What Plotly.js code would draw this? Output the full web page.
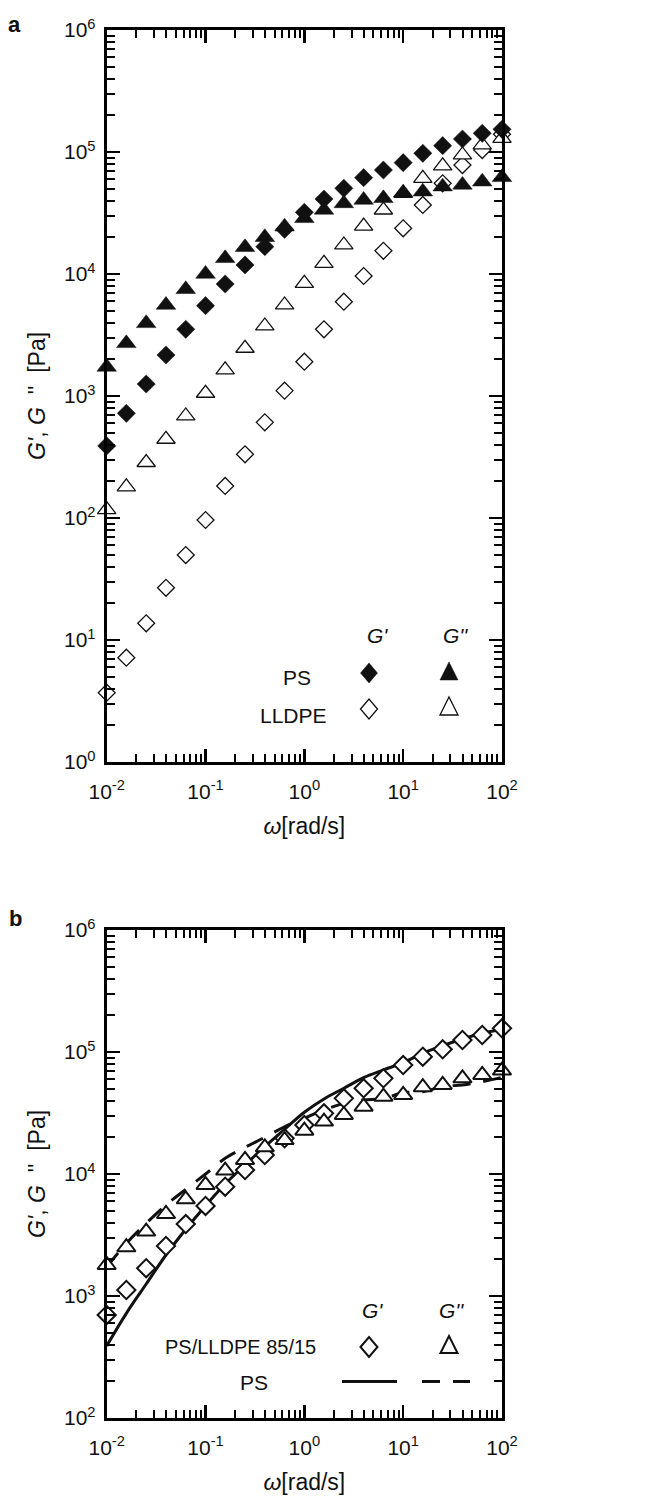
<!DOCTYPE html>
<html>
<head>
<meta charset="utf-8">
<script src="https://cdn.plot.ly/plotly-3.0.1.min.js"></script>
<style>html,body{margin:0;padding:0;background:#fff}#chart{width:646px;height:1500px}</style>
</head>
<body>
<div id="chart"></div>
<script>
// ---------------- data ----------------
const omega = [0.01, 0.0158, 0.0251, 0.0398, 0.0631, 0.1, 0.158, 0.251, 0.398, 0.631, 1,
               1.58, 2.51, 3.98, 6.31, 10, 15.8, 25.1, 39.8, 63.1, 100];

// Panel a
const psG1 = [390, 721, 1254, 2168, 3523, 5500, 8280, 11860, 16750, 23240, 32050,
              41200, 50400, 61600, 71200, 81800, 97600, 112700, 127800, 142300, 153500];
const psG2 = [1730, 2700, 3940, 5570, 7490, 10000, 13450, 16550, 20000, 24400, 28600,
              33500, 37900, 40400, 41700, 46400, 47300, 52000, 53700, 57100, 62000];
const llG1 = [3.7, 7.16, 13.7, 26.8, 49.7, 96.3, 183, 333, 608, 1106, 1910,
              3520, 5930, 9630, 15500, 23700, 36800, 55400, 78200, 103800, 140000];
const llG2 = [117, 180, 285, 442, 686, 1053, 1636, 2463, 3750, 5574, 8394,
              12220, 17300, 24720, 33460, 45870, 60900, 76900, 94560, 114200, 129500];

// Panel b : PS/LLDPE 85/15 blend
const blG1 = [699, 1120, 1690, 2570, 3890, 5470, 7870, 10780, 14300, 19600, 25200,
              31400, 41700, 50400, 60800, 78200, 91500, 105200, 125400, 137800, 156400];
const blG2 = [1795, 2510, 3375, 4700, 6200, 8130, 10670, 13030, 16540, 18990, 22650,
              26900, 30460, 35630, 43050, 44460, 51420, 53670, 60910, 64860, 70500];

// tick labels
const xTickVals = [0.01, 0.1, 1, 10, 100];
const xTickText = ['10<sup>-2</sup>', '10<sup>-1</sup>', '10<sup>0</sup>', '10<sup>1</sup>', '10<sup>2</sup>'];
const yTickValsA = [1, 10, 100, 1e3, 1e4, 1e5, 1e6];
const yTickTextA = ['10<sup>0</sup>', '10<sup>1</sup>', '10<sup>2</sup>', '10<sup>3</sup>', '10<sup>4</sup>', '10<sup>5</sup>', '10<sup>6</sup>'];
const yTickValsB = [100, 1e3, 1e4, 1e5, 1e6];
const yTickTextB = ['10<sup>2</sup>', '10<sup>3</sup>', '10<sup>4</sup>', '10<sup>5</sup>', '10<sup>6</sup>'];

// ---------------- helpers ----------------
const W = 646, H = 1500;
const X = p => p / W;
const Y = p => 1 - p / H;
const FONT = 'Liberation Sans, Arial, Helvetica, sans-serif';
const NB = '\u00A0';

function minorVals(lo, hi) {
  const v = [];
  for (let e = lo; e < hi; e++) for (let m = 2; m <= 9; m++) v.push(m * Math.pow(10, e));
  return v;
}

function axis(extra) {
  return Object.assign({
    type: 'log', showgrid: false, zeroline: false,
    showline: true, linewidth: 3, linecolor: '#000', mirror: 'allticks',
    ticks: 'inside', ticklen: 13, tickwidth: 2.5, tickcolor: '#000',
    tickmode: 'array',
    tickfont: {family: FONT, size: 21, color: '#111'},
    fixedrange: true
  }, extra);
}
function minor(lo, hi) {
  return {ticks: 'inside', ticklen: 8, tickwidth: 2, tickcolor: '#000', showgrid: false,
          tickmode: 'array', tickvals: minorVals(lo, hi)};
}

const dom = {xa: [X(106.7), X(502)], ya: [Y(762), Y(30)], yb: [Y(1418), Y(930)]};

function mk(x, y, xa, ya, symbol, size, filled, lw) {
  return {
    x: x, y: y, xaxis: xa, yaxis: ya, type: 'scatter', mode: 'markers', cliponaxis: false,
    marker: {symbol: symbol, size: size, color: filled ? '#111' : '#fff',
             line: {color: '#111', width: filled ? 0.5 : lw}},
    showlegend: false, hoverinfo: 'skip'
  };
}

const traces = [
  // panel a
  mk(omega, llG1, 'x', 'y', 'diamond', 13, false, 1.3),
  mk(omega, llG2, 'x', 'y', 'triangle-up', 16, false, 1.3),
  mk(omega, psG1, 'x', 'y', 'diamond', 14, true),
  mk(omega, psG2, 'x', 'y', 'triangle-up', 17, true),
  // panel b lines (PS)
  {x: omega, y: psG1, xaxis: 'x2', yaxis: 'y2', type: 'scatter', mode: 'lines', cliponaxis: false,
   line: {color: '#111', width: 3, shape: 'spline', smoothing: 1}, showlegend: false, hoverinfo: 'skip'},
  {x: omega, y: psG2, xaxis: 'x2', yaxis: 'y2', type: 'scatter', mode: 'lines', cliponaxis: false,
   line: {color: '#111', width: 3, shape: 'spline', smoothing: 1, dash: '18px,13px'}, showlegend: false, hoverinfo: 'skip'},
  // panel b markers
  mk(omega, blG1, 'x2', 'y2', 'diamond', 14, false, 2),
  mk(omega, blG2, 'x2', 'y2', 'triangle-up', 16, false, 2)
];

// legend glyph shapes
function diamondPath(cx, cy, hw, hh) {
  return `M ${X(cx - hw)},${Y(cy)} L ${X(cx)},${Y(cy - hh)} L ${X(cx + hw)},${Y(cy)} L ${X(cx)},${Y(cy + hh)} Z`;
}
function triPath(cx, cy, hw, up, dn) {
  return `M ${X(cx - hw)},${Y(cy + dn)} L ${X(cx + hw)},${Y(cy + dn)} L ${X(cx)},${Y(cy - up)} Z`;
}
function shp(path, filled, lw) {
  return {type: 'path', xref: 'paper', yref: 'paper', path: path,
          fillcolor: filled ? '#111' : '#fff', line: {color: '#111', width: lw}};
}
function seg(x0, x1, y) {
  return {type: 'line', xref: 'paper', yref: 'paper', x0: X(x0), x1: X(x1), y0: Y(y), y1: Y(y),
          line: {color: '#111', width: 3}};
}

const shapes = [
  shp(diamondPath(369, 673, 8.5, 10), true, 0.5),
  shp(triPath(449, 673, 9, 11, 7), true, 0.5),
  shp(diamondPath(369, 709, 8.5, 10), false, 1.3),
  shp(triPath(449, 708, 9, 11, 7), false, 1.3),
  shp(diamondPath(369, 1347, 8.5, 10), false, 2),
  shp(triPath(449, 1346, 8.5, 10, 7), false, 2),
  seg(342, 397, 1381.5),
  seg(422, 440, 1381.5),
  seg(453, 470, 1381.5)
];

function txt(text, cx, cy, size, opts) {
  return Object.assign({text: text, xref: 'paper', yref: 'paper', x: X(cx), y: Y(cy),
    xanchor: 'center', yanchor: 'middle', showarrow: false,
    font: {family: FONT, size: size, color: '#111'}}, opts || {});
}

const annotations = [
  txt('<b>a</b>', 14, 24, 22),
  txt('<b>b</b>', 15, 918, 22),
  txt("<i>G'</i>", 377, 635, 21),
  txt("<i>G''</i>", 455, 635, 21),
  txt('PS', 297, 678, 21),
  txt('LLDPE', 293, 715, 21),
  txt("<i>G'</i>", 372, 1310, 21),
  txt("<i>G''</i>", 451, 1310, 21),
  txt('PS/LLDPE 85/15', 240, 1347, 20),
  txt('PS', 254, 1382, 21)
];

const yTitle = "<i>G'</i>," + NB + "<i>G</i>" + NB + NB + "''" + NB + NB + "[Pa]";
const xTitle = '<i>ω</i>[rad/s]';
const titleFont = {family: FONT, size: 23, color: '#111'};

const layout = {
  width: W, height: H,
  margin: {l: 0, r: 0, t: 0, b: 0},
  paper_bgcolor: '#fff', plot_bgcolor: '#fff',
  font: {family: FONT, color: '#111'},
  showlegend: false,
  xaxis: axis({domain: dom.xa, anchor: 'y', range: [-2, 2], tickvals: xTickVals, ticktext: xTickText,
    minor: minor(-2, 2), ticklabelstandoff: 9,
    title: {text: xTitle, font: titleFont, standoff: 16}}),
  yaxis: axis({domain: dom.ya, anchor: 'x', range: [0, 6], tickvals: yTickValsA, ticktext: yTickTextA,
    minor: minor(0, 6), ticklabelstandoff: 4,
    title: {text: yTitle, font: titleFont, standoff: 12}}),
  xaxis2: axis({domain: dom.xa, anchor: 'y2', range: [-2, 2], tickvals: xTickVals, ticktext: xTickText,
    minor: minor(-2, 2), ticklabelstandoff: 9,
    title: {text: xTitle, font: titleFont, standoff: 16}}),
  yaxis2: axis({domain: dom.yb, anchor: 'x2', range: [2, 6], tickvals: yTickValsB, ticktext: yTickTextB,
    minor: minor(2, 6), ticklabelstandoff: 4,
    title: {text: yTitle, font: titleFont, standoff: 12}}),
  shapes: shapes,
  annotations: annotations
};

Plotly.newPlot('chart', traces, layout, {staticPlot: true, displayModeBar: false});
</script>
</body>
</html>
